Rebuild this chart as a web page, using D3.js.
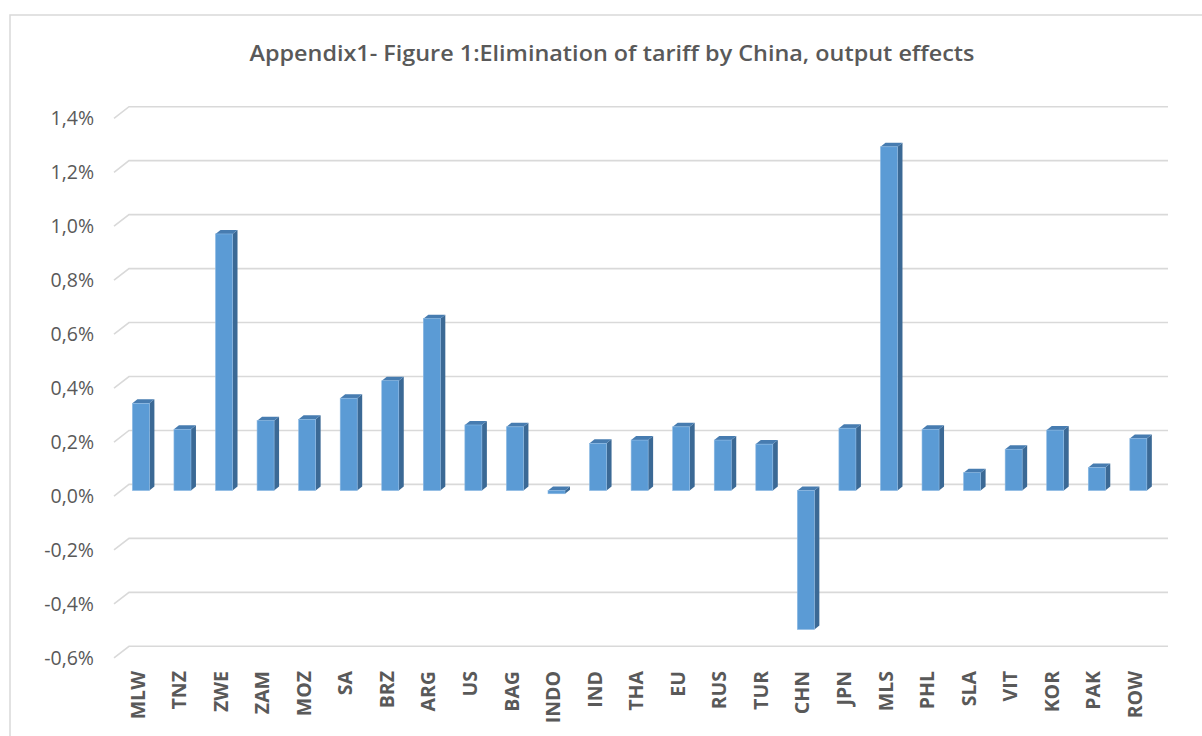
<!DOCTYPE html>
<html><head><meta charset="utf-8">
<script src="https://cdn.jsdelivr.net/npm/d3@7"></script>
<style>body{margin:0;background:#fff}svg{display:block}</style>
</head><body>
<svg id="c" width="1202" height="736"></svg>
<script>
const title = "Appendix1- Figure 1:Elimination of tariff by China, output effects";
const categories = ["MLW","TNZ","ZWE","ZAM","MOZ","SA","BRZ","ARG","US","BAG","INDO","IND","THA","EU","RUS","TUR","CHN","JPN","MLS","PHL","SLA","VIT","KOR","PAK","ROW"];
const values = [0.323,0.227,0.951,0.259,0.264,0.342,0.407,0.637,0.243,0.236,-0.012,0.175,0.187,0.236,0.187,0.172,-0.515,0.231,1.274,0.227,0.066,0.153,0.224,0.085,0.193];
const yTicks = [-0.6,-0.4,-0.2,0,0.2,0.4,0.6,0.8,1.0,1.2,1.4];

const svg = d3.select("#c");
const DX = 15, DY = -11.6;        // floor depth projection
const BFX = 7.1, BFY = -5.5;      // bar front plane offset
const BDX = 5, BDY = -4;          // bar depth
const BW = 17, BOFF = 11.3;

const x = d3.scaleBand().domain(categories).range([114, 1153]).padding(0);
const y = d3.scaleLinear().domain([-0.6, 1.4]).range([657.9, 118.3]);

// chart border
svg.append("path").attr("d","M10,737 L10,15 L1203,15")
  .attr("fill","none").attr("stroke","#d9d9d9").attr("stroke-width",1.5);

// title
svg.append("text").attr("x",612).attr("y",53).attr("text-anchor","middle")
  .attr("dominant-baseline","central")
  .attr("textLength",725).attr("lengthAdjust","spacingAndGlyphs")
  .style("font-family","'Open Sans', sans-serif").style("font-weight","600")
  .style("font-size","21px").attr("fill","#595959").text(title);

// gridlines (back wall + side diagonal)
const x0 = x.range()[0], x1 = x.range()[1];
svg.append("g").selectAll("path").data(yTicks).join("path")
  .attr("d", v => `M${x0},${y(v)} L${x0+DX},${y(v)+DY} L${x1+DX},${y(v)+DY}`)
  .attr("fill","none").attr("stroke","#d9d9d9").attr("stroke-width",1.6);

// y axis
const fmt = v => d3.format(".1f")(v).replace("\u2212","-").replace(".",",") + "%";
const ya = svg.append("g").attr("transform",`translate(${x0},0)`)
  .call(d3.axisLeft(y).tickValues(yTicks).tickFormat(fmt).tickSize(0).tickPadding(20));
ya.select(".domain").remove();
ya.selectAll("text").style("font-family","'Open Sans', sans-serif").style("font-size","19.5px")
  .attr("fill","#595959");

// bars
const bars = svg.append("g").selectAll("g").data(categories.map((c,i)=>({c, v: values[i]}))).join("g");
bars.each(function(d){
  const g = d3.select(this);
  const fx = x(d.c) + BOFF + BFX;
  const yt = y(Math.max(d.v,0)) + BFY;
  const yb = y(Math.min(d.v,0)) + BFY;
  g.append("path").attr("d",`M${fx+BW},${yt} L${fx+BW+BDX},${yt+BDY} L${fx+BW+BDX},${yb+BDY} L${fx+BW},${yb}Z`)
    .attr("fill","#3b6995");
  g.append("path").attr("d",`M${fx},${yt} L${fx+BDX},${yt+BDY} L${fx+BW+BDX},${yt+BDY} L${fx+BW},${yt}Z`)
    .attr("fill","#477cb0");
  g.append("rect").attr("x",fx).attr("y",yt).attr("width",BW).attr("height",Math.max(0,yb-yt))
    .attr("fill","#5b9bd5").attr("stroke","#8ab8e3").attr("stroke-width",0.6);
});

// x axis labels
const xa = svg.append("g").attr("transform",`translate(2.7,671)`)
  .call(d3.axisBottom(x).tickSize(0).tickPadding(0));
xa.select(".domain").remove();
xa.selectAll("text").attr("transform","rotate(-90)").attr("text-anchor","end")
  .attr("x",0).attr("y",0).attr("dy","0.36em")
  .style("font-family","'Open Sans', sans-serif").style("font-weight","700").style("font-size","19.5px")
  .attr("fill","#595959");
</script>
</body></html>
